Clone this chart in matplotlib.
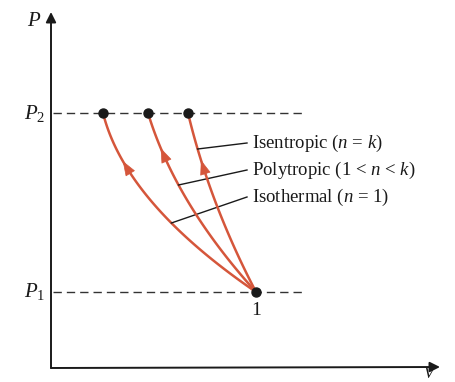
import numpy as np
import matplotlib
matplotlib.use("Agg")
import matplotlib.pyplot as plt

plt.rcParams['font.family'] = ['Liberation Serif', 'DejaVu Serif']
plt.rcParams['mathtext.fontset'] = 'custom'
plt.rcParams['mathtext.rm'] = 'Liberation Serif'
plt.rcParams['mathtext.it'] = 'Liberation Serif:italic'

# state levels (diagram units)
P1 = 0.76
P2 = 2.55
V1 = 2.05
V_dash_end = 2.53

# process curves, from state 1 up to P2
iso_V = [2.05, 1.66, 1.31, 1.02, 0.77, 0.52]
iso_P = [0.76, 0.96, 1.33, 1.68, 2.05, 2.55]
poly_V = [2.05, 1.81, 1.49, 1.32, 1.12, 0.97]
poly_P = [0.76, 1.00, 1.48, 1.78, 2.13, 2.55]
isen_V = [2.05, 1.91, 1.72, 1.52, 1.44, 1.37]
isen_P = [0.76, 1.03, 1.48, 2.01, 2.28, 2.55]
curves = [(iso_V, iso_P), (poly_V, poly_P), (isen_V, isen_P)]

# where the arrow heads sit, where the leaders leave each curve
arrow_P = [2.07, 2.20, 2.08]
leader_P = [1.45, 1.83, 2.19]
leader_end = [1.71, 1.98, 2.25]
labels = [r'Isothermal ($n$ = 1)', r'Polytropic (1 < $n$ < $k$)', r'Isentropic ($n$ = $k$)']

red = '#d5563b'
ink = '#1a1a1a'

fig = plt.figure(figsize=(4.55, 3.82), dpi=100)
ax = fig.add_axes([0, 0, 1, 1])
ax.set_xlim(-0.51, 4.04)
ax.set_ylim(-0.14, 3.68)
ax.axis('off')

# axes with arrow heads
ax.annotate('', xy=(0, 3.56), xytext=(0, 0),
            arrowprops=dict(arrowstyle='-|>', color=ink, lw=1.4, mutation_scale=15, shrinkA=0, shrinkB=0))
ax.annotate('', xy=(3.89, 0.01), xytext=(0, 0),
            arrowprops=dict(arrowstyle='-|>', color=ink, lw=1.4, mutation_scale=15, shrinkA=0, shrinkB=0))

# pressure levels
for p in (P1, P2):
    ax.plot([0.02, V_dash_end], [p, p], color='#333333', lw=1.0, dashes=(6, 3.6))

for (v, p), pa, pl, pe, lab in zip(curves, arrow_P, leader_P, leader_end, labels):
    v = np.array(v)
    p = np.array(p)
    # smooth the read points with a weighted quadratic so the ends stay put
    w = np.ones_like(p)
    w[0] = w[-1] = 20
    coef = np.polyfit(p, v, 2, w=w)
    ps = np.linspace(p[0], p[-1], 80)
    vs = np.polyval(coef, ps)
    ax.plot(vs, ps, color=red, lw=1.8, solid_capstyle='round')
    # arrow head pointing up along the curve
    tip = (np.polyval(coef, pa), pa)
    tail = (np.polyval(coef, pa - 0.1), pa - 0.1)
    ax.annotate('', xy=tip, xytext=tail,
                arrowprops=dict(arrowstyle='-|>,head_length=0.6,head_width=0.22', color=red, lw=0.5,
                                mutation_scale=16, shrinkA=0, shrinkB=0))
    # leader line and label
    ax.plot([np.polyval(coef, pl), 1.96], [pl, pe], color=ink, lw=1.0)
    ax.text(2.01, pe, lab, fontsize=13.5, color=ink, va='center')

# end states
ax.plot([c[0][-1] for c in curves], [P2] * 3, 'o', color=ink, ms=6.5)
ax.plot([V1], [P1], 'o', color=ink, ms=6.5)

ax.text(V1, 0.66, '1', fontsize=14, color=ink, ha='center', va='top')
ax.text(-0.10, 3.47, r'$P$', fontsize=15, color=ink, ha='right', va='center')
ax.text(-0.06, P2, r'$P_2$', fontsize=15, color=ink, ha='right', va='center')
ax.text(-0.06, P1, r'$P_1$', fontsize=15, color=ink, ha='right', va='center')
ax.text(3.79, -0.14, r'$V$', fontsize=12, color=ink, ha='center', va='bottom')

fig.savefig('out.png', dpi=100)
